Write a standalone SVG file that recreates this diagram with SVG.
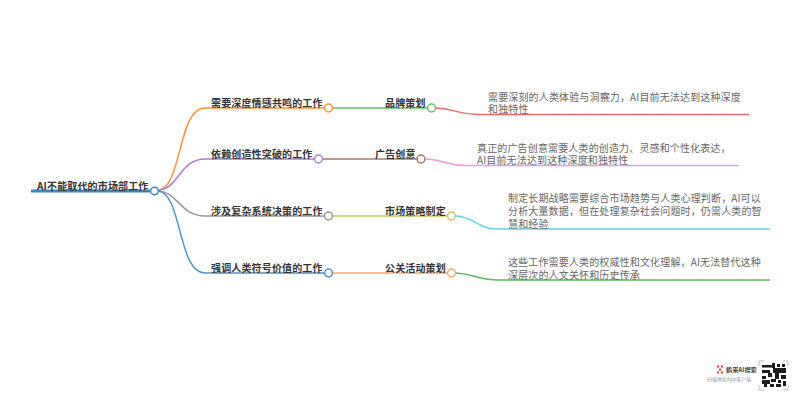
<svg xmlns="http://www.w3.org/2000/svg" width="800" height="402" viewBox="0 0 800 402">
<style>
text{font-family:"Noto Sans CJK SC","Liberation Sans",sans-serif;font-size:10px;letter-spacing:.15px}
.b{font-weight:700;fill:#333}
.d{fill:#666}
.c{fill:#fff;stroke-width:1.5}
.l{fill:none;stroke-width:1.5}
.q{fill:#1c1c1c}
.k{fill:none;stroke:#aaa;stroke-width:.8}
</style>
<defs><filter id="s" x="-5%" y="-5%" width="110%" height="110%"><feGaussianBlur stdDeviation=".5"/></filter></defs>
<rect width="800" height="402" fill="#fff"/>
<g id="connectors" class="l">
<path d="M31 191H150" stroke="#3f88bf" stroke-width="3"/>
<path d="M159 190C182 186 178 108 205 108H324" stroke="#ff9234"/>
<path d="M159 190C178 189 180 159 205 159H314" stroke="#a97fd4"/>
<path d="M159 191C178 192 180 216 205 216H324" stroke="#999"/>
<path d="M159 191C182 195 178 273 205 273H324" stroke="#4f94cd"/>
<path d="M333 108H427" stroke="#62c462"/>
<path d="M323 159H417" stroke="#a9796c"/>
<path d="M333 216H447" stroke="#c9c94e"/>
<path d="M333 273H447" stroke="#ffa766"/>
<path d="M436 108C456 109 458 114.500 478 114.500H749" stroke="#ee6a6a"/>
<path d="M426 159C446 160 446 165.500 466 165.500H739" stroke="#f09ad6"/>
<path d="M456 216C476 217 476 229 498 229H770" stroke="#5dd8e6"/>
<path d="M456 273C476 274 476 280 498 280H770" stroke="#5cb85c"/>
</g>
<g id="root"><text class="b" x="37" y="189.500">AI不能取代的市场部工作</text><circle class="c" cx="154.500" cy="191" r="3.800" stroke="#3f88bf"/></g>
<g id="n1"><text class="b" x="211" y="106.500">需要深度情感共鸣的工作</text><circle class="c" cx="328.500" cy="108" r="3.900" stroke="#ff9234"/></g>
<g id="n2"><text class="b" x="211" y="157.500">依赖创造性突破的工作</text><circle class="c" cx="318.500" cy="159" r="3.900" stroke="#a97fd4"/></g>
<g id="n3"><text class="b" x="211" y="214.500">涉及复杂系统决策的工作</text><circle class="c" cx="328.500" cy="216" r="3.900" stroke="#999"/></g>
<g id="n4"><text class="b" x="211" y="271.500">强调人类符号价值的工作</text><circle class="c" cx="328.500" cy="273" r="3.900" stroke="#4f94cd"/></g>
<g id="n1a"><text class="b" x="385" y="106.500">品牌策划</text><circle class="c" cx="431.500" cy="108" r="3.900" stroke="#62c462"/></g>
<g id="n2a"><text class="b" x="375" y="157.500">广告创意</text><circle class="c" cx="421" cy="159" r="3.900" stroke="#a9796c"/></g>
<g id="n3a"><text class="b" x="385" y="214.500">市场策略制定</text><circle class="c" cx="451.500" cy="216" r="3.900" stroke="#c9c94e"/></g>
<g id="n4a"><text class="b" x="385" y="271.500">公关活动策划</text><circle class="c" cx="451.500" cy="273" r="3.900" stroke="#ffa766"/></g>
<g id="t1" class="d"><text x="488" y="100.500">需要深刻的人类体验与洞察力，AI目前无法达到这种深度</text><text x="488" y="113">和独特性</text></g>
<g id="t2" class="d"><text x="477" y="151.500">真正的广告创意需要人类的创造力、灵感和个性化表达，</text><text x="477" y="164">AI目前无法达到这种深度和独特性</text></g>
<g id="t3" class="d"><text x="508" y="202">制定长期战略需要综合市场趋势与人类心理判断，AI可以</text><text x="508" y="215">分析大量数据，但在处理复杂社会问题时，仍需人类的智</text><text x="508" y="228">慧和经验</text></g>
<g id="t4" class="d"><text x="508" y="266">这些工作需要人类的权威性和文化理解，AI无法替代这种</text><text x="508" y="278.500">深层次的人文关怀和历史传承</text></g>
<g id="logo">
<g fill="#e03a3a"><rect x="717" y="365.500" width="2" height="2"/><rect x="721" y="365.500" width="2" height="2"/><rect x="719" y="368.500" width="2" height="2"/><rect x="717" y="371.500" width="2" height="2"/><rect x="721" y="371.500" width="2" height="2"/></g>
<text x="726" y="372" style="font-size:6.200px;letter-spacing:0;font-weight:700;fill:#444">鹤来AI搜索</text>
<text x="707" y="381" style="font-size:5px;letter-spacing:0;fill:#999">扫描体验App客户端</text>
</g>
<g id="qr">
<path class="k" d="M759 366V361H764M783 361H788V366M759 385V390H764M783 390H788V385"/>
<g class="q" filter="url(#s)">
<rect x="762" y="365" width="10" height="2.500"/><rect x="772" y="363" width="3" height="5"/><rect x="777" y="364" width="3" height="3"/><rect x="782" y="364" width="3" height="3"/>
<rect x="773" y="368" width="13" height="5"/><rect x="762" y="370" width="8" height="3"/><rect x="768" y="373" width="4" height="4"/>
<rect x="775" y="373" width="4" height="6"/><rect x="781" y="375" width="5" height="4"/><rect x="762" y="376" width="4" height="3"/>
<rect x="762" y="380" width="8" height="4"/><rect x="771" y="379" width="5" height="3"/><rect x="778" y="380" width="3" height="3"/><rect x="783" y="381" width="3" height="5"/>
<rect x="764" y="384" width="3" height="3"/><rect x="770" y="384" width="4" height="3"/><rect x="776" y="384" width="5" height="3"/>
</g>
</g>
</svg>
